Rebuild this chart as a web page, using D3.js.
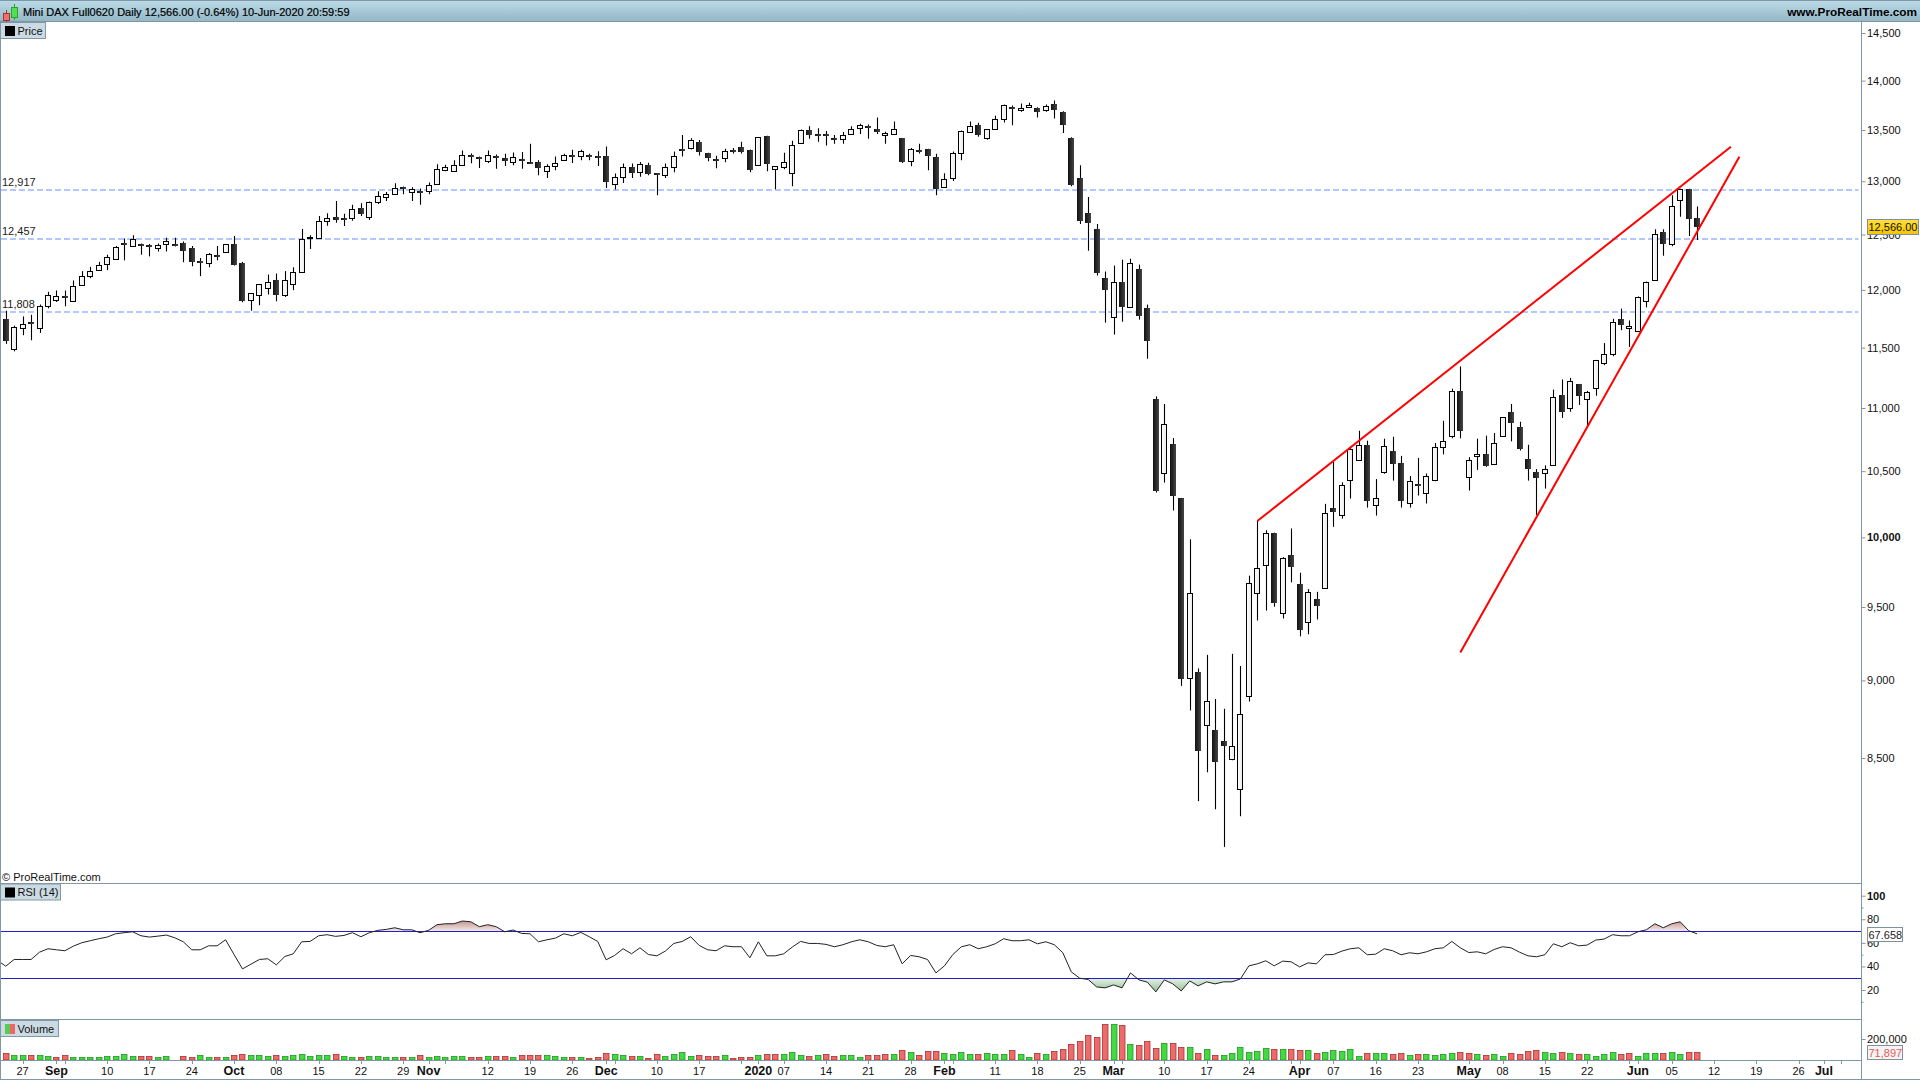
<!DOCTYPE html>
<html>
<head>
<meta charset="utf-8">
<script src="https://cdn.jsdelivr.net/npm/d3@7"></script>
<style>
  body { margin: 0; background: #fff; }
  text { font-family: "Liberation Sans", Arial, sans-serif; }
</style>
</head>
<body>
<div id="chart"></div>
<script>
const opens = [
  11745,11489,11668,11720,11668,11859,11912,11947,11900,12045,
  12122,12178,12229,12276,12421,12398,12413,12401,12380,12410,
  12410,12421,12374,12258,12241,12312,12339,12410,12244,11909,
  11956,12018,12090,11953,12054,12158,12466,12469,12622,12659,
  12650,12656,12743,12665,12805,12852,12883,12949,12901,12911,
  12911,12975,13109,13099,13160,13250,13237,13199,13243,13227,
  13189,13218,13189,13189,13103,13151,13208,13256,13247,13256,
  13247,13247,12975,13045,13141,13090,13160,13077,13064,13141,
  13314,13320,13381,13275,13218,13224,13307,13333,13298,13160,
  13442,13122,13141,13080,13371,13496,13461,13461,13419,13410,
  13458,13515,13544,13506,13448,13458,13419,13199,13307,13314,
  13237,12946,13035,13275,13477,13554,13419,13506,13611,13730,
  13698,13733,13717,13704,13765,13679,13419,13029,12696,12547,
  12107,11762,12074,11847,12187,11844,11075,10482,10714,10295,
  9018,9053,8709,8680,8609,8492,8309,8895,9598,9798,
  10035,9457,9871,9664,9395,9557,9633,10220,10164,10429,
  10585,10706,10240,10490,10659,10564,10255,10402,10331,10429,
  10688,10775,11142,10452,10616,10632,10553,10775,10966,10849,
  10593,10497,10482,10545,11108,10997,11197,11075,11164,11372,
  11447,11747,11669,11643,11902,12091,12519,12412,12824,12929,
  12653
];
const highs = [
  11817,11688,11768,11782,11871,11983,11995,11995,12084,12167,
  12205,12250,12315,12395,12463,12494,12418,12413,12418,12469,
  12469,12436,12395,12285,12330,12395,12410,12485,12250,11971,
  12051,12137,12146,12167,12202,12550,12494,12671,12696,12811,
  12693,12777,12790,12808,12905,12898,12981,12949,12943,12930,
  12987,13163,13160,13202,13298,13269,13240,13298,13259,13266,
  13279,13282,13365,13202,13163,13240,13266,13304,13304,13266,
  13291,13336,13074,13170,13170,13186,13179,13080,13170,13288,
  13451,13419,13400,13275,13247,13314,13323,13384,13307,13429,
  13442,13147,13275,13394,13506,13538,13518,13490,13451,13480,
  13538,13563,13554,13624,13483,13586,13419,13323,13365,13314,
  13266,13077,13288,13496,13586,13573,13506,13643,13755,13746,
  13765,13775,13727,13755,13797,13688,13429,13154,12850,12596,
  12164,12217,12270,12279,12226,11871,11095,11033,10759,10295,
  9986,9080,9171,8878,8814,9178,9096,9722,10121,10053,
  10035,9855,10066,9743,9626,9607,10250,10574,10414,10693,
  10817,10738,10439,10754,10770,10619,10462,10603,10482,10720,
  10897,11158,11342,10609,10754,10778,10799,10926,11033,10889,
  10706,10516,10545,11150,11234,11247,11197,11139,11397,11539,
  11747,11836,11733,11942,12074,12548,12548,12866,12929,12929,
  12761
];
const lows = [
  11532,11469,11606,11563,11626,11838,11894,11856,11900,12045,
  12104,12178,12176,12276,12264,12398,12315,12300,12344,12344,
  12389,12247,12211,12122,12202,12264,12330,12217,11891,11817,
  11865,11959,11900,11938,11998,12152,12368,12466,12581,12609,
  12578,12628,12671,12634,12783,12811,12870,12877,12811,12777,
  12877,12975,13096,13090,13147,13173,13128,13176,13119,13147,
  13154,13119,13170,13058,13032,13106,13195,13176,13202,13202,
  13147,12936,12920,12984,13032,13042,13058,12867,13032,13087,
  13240,13307,13250,13192,13125,13183,13269,13269,13087,13160,
  13096,12923,13115,12952,13371,13413,13384,13346,13365,13365,
  13458,13461,13413,13461,13365,13458,13176,13144,13269,13106,
  12867,12946,13003,13202,13477,13432,13403,13506,13576,13547,
  13682,13723,13624,13682,13614,13470,12952,12596,12350,12128,
  11714,11611,11722,11847,11740,11406,10336,10412,10200,8964,
  8803,8234,8411,8185,7961,8486,8143,8861,9406,9475,
  9502,9420,9674,9297,9311,9413,9633,10078,10139,10290,
  10585,10222,10162,10480,10427,10222,10222,10313,10253,10422,
  10630,10757,10757,10351,10510,10534,10553,10775,10733,10661,
  10427,10167,10366,10545,10920,10970,11025,10852,11100,11353,
  11428,11649,11506,11643,11847,12091,12306,12391,12665,12485,
  12450
];
const closes = [
  11554,11674,11700,11700,11856,11953,11944,11938,12033,12122,
  12167,12220,12291,12383,12413,12457,12407,12395,12407,12436,
  12398,12353,12247,12250,12321,12300,12410,12226,11906,11971,
  12051,12069,11953,12090,12158,12457,12476,12628,12650,12634,
  12637,12740,12690,12799,12864,12880,12936,12926,12926,12901,
  12965,13122,13141,13157,13253,13243,13215,13253,13237,13195,
  13237,13199,13183,13128,13147,13176,13253,13234,13291,13247,
  13224,12994,13042,13138,13083,13170,13067,13070,13138,13243,
  13301,13400,13282,13224,13205,13295,13282,13282,13106,13429,
  13166,13147,13189,13352,13496,13455,13455,13445,13407,13448,
  13506,13554,13522,13483,13467,13506,13186,13314,13291,13243,
  12923,13026,13275,13486,13544,13455,13506,13611,13746,13714,
  13723,13755,13685,13743,13704,13551,12968,12628,12609,12149,
  11998,12071,11847,12241,11768,11554,10351,10870,10306,9009,
  9598,8541,8863,8478,8573,8575,8780,9669,9776,10035,
  9531,9848,9781,9338,9605,9510,10179,10192,10391,10675,
  10704,10268,10293,10696,10558,10275,10422,10389,10460,10688,
  10735,11142,10812,10585,10632,10542,10720,10926,10876,10669,
  10519,10450,10513,11089,10966,11222,11094,11133,11397,11447,
  11721,11692,11687,11936,12074,12500,12409,12767,12929,12640,
  12566
];

// first value belongs to the bar just left of the visible window
const rsiValues = [
  45.3,40.2,45.9,45.9,45.9,52.1,55.0,54.1,53.3,57.2,
  60.1,61.8,63.5,64.9,67.7,68.6,69.4,66.0,64.9,65.7,
  66.6,64.3,60.9,54.1,54.1,57.5,57.5,62.6,50.1,37.9,
  41.9,45.9,46.5,41.3,48.4,50.7,60.9,61.2,66.0,66.9,
  65.5,66.3,68.6,65.2,68.6,70.6,71.4,72.8,71.1,71.1,
  68.6,70.6,75.4,76.2,76.2,78.5,77.9,73.7,75.4,73.7,
  69.4,70.9,68.0,67.7,60.9,62.6,64.0,67.7,66.0,68.9,
  65.2,61.2,45.6,49.3,55.0,50.7,55.8,
  50.1,49.0,53.0,59.5,61.2,65.2,57.8,54.1,53.3,57.5,
  56.7,56.7,47.3,60.9,49.0,49.0,50.7,56.4,61.2,59.5,
  59.5,58.7,56.7,58.4,60.9,62.6,60.9,57.8,56.7,58.4,
  42.2,49.3,48.2,45.9,34.5,40.5,50.1,56.7,58.4,55.0,
  56.7,59.2,63.5,61.8,61.8,62.6,59.2,60.9,58.4,51.6,
  35.4,30.0,28.9,22.6,21.8,24.3,21.8,34.5,28.6,26.6,
  18.4,28.6,25.2,19.2,27.7,23.5,26.9,25.2,26.9,26.9,
  29.4,40.5,42.2,44.8,40.5,44.5,43.9,39.6,43.0,42.2,
  49.9,50.1,53.0,55.0,55.8,49.9,50.4,55.0,53.3,49.9,
  51.6,50.7,52.4,55.0,55.8,61.2,55.8,51.8,52.4,50.7,
  54.4,56.7,55.8,52.1,49.0,48.2,49.9,59.2,56.7,60.1,
  57.5,58.1,62.3,63.2,66.9,66.0,66.0,69.4,71.1,76.2,
  72.8,76.2,77.9,70.3,67.658
];

const volumes = [
  67000,48000,48000,48000,48000,38000,29000,48000,29000,29000,
  29000,29000,38000,38000,57000,38000,38000,38000,29000,38000,
  0,38000,29000,48000,29000,29000,29000,48000,57000,48000,
  48000,38000,48000,38000,48000,57000,38000,48000,48000,57000,
  38000,29000,29000,38000,38000,29000,29000,29000,29000,48000,
  29000,38000,29000,38000,38000,29000,29000,38000,38000,38000,
  29000,48000,48000,48000,48000,38000,29000,29000,29000,19000,
  29000,67000,57000,48000,38000,38000,19000,57000,38000,57000,
  76000,38000,48000,38000,38000,48000,19000,29000,29000,48000,
  57000,57000,57000,76000,48000,38000,48000,57000,38000,48000,
  48000,29000,48000,48000,57000,57000,95000,76000,48000,86000,
  86000,67000,57000,76000,57000,57000,67000,57000,57000,95000,
  57000,29000,67000,57000,86000,105000,152000,181000,238000,219000,
  343000,343000,333000,152000,143000,181000,114000,162000,162000,124000,
  124000,67000,105000,48000,48000,67000,124000,76000,86000,114000,
  105000,105000,105000,95000,95000,67000,76000,95000,86000,105000,
  38000,67000,67000,67000,57000,67000,48000,57000,57000,48000,
  57000,67000,76000,67000,57000,48000,57000,38000,67000,57000,
  86000,95000,76000,67000,76000,67000,57000,57000,38000,57000,
  76000,57000,67000,38000,67000,67000,67000,76000,57000,76000,
  71897
];
const volumeRed = [
  0,3,6,7,16,17,21,22,25,27,28,32,39,42,47,49,55,56,58,59,61,62,63,67,69,70,71,74,
  76,77,82,83,84,86,87,88,90,91,95,97,98,102,103,104,106,108,109,110,115,119,122,124,125,
  126,127,128,129,130,132,134,135,136,138,139,141,143,150,152,153,155,161,164,165,167,172,
  173,175,178,179,180,181,184,186,191,192,196,199,200
];

const priceTicks = [14500,14000,13500,13000,12500,12000,11500,11000,10500,10000,9500,9000,8500];
const levels = [12917, 12457, 11808];
// wedge: [bar, price] at both ends
const wedgeUpper = [[148, 10121], [204, 13335]];
const wedgeLower = [[172, 9187], [205, 13237]];

const rsiTicks = [100, 80, 60, 40, 20];
const rsiMinor = [90, 50, 10];
const rsiBands = [70, 30];

// bar position, label, major (bold)
const timeLabels = [
  [2,"27",0],[6,"Sep",1],[12,"10",0],[17,"17",0],[22,"24",0],[27,"Oct",1],[32,"08",0],[37,"15",0],
  [42,"22",0],[47,"29",0],[50,"Nov",1],[57,"12",0],[62,"19",0],[67,"26",0],[71,"Dec",1],[77,"10",0],
  [82,"17",0],[89,"2020",1],[92,"07",0],[97,"14",0],[102,"21",0],[107,"28",0],[111,"Feb",1],[117,"11",0],
  [122,"18",0],[127,"25",0],[131,"Mar",1],[137,"10",0],[142,"17",0],[147,"24",0],[153,"Apr",1],[157,"07",0],
  [162,"16",0],[167,"23",0],[173,"May",1],[177,"08",0],[182,"15",0],[187,"22",0],[193,"Jun",1],[197,"05",0],
  [202,"12",0],[207,"19",0],[212,"26",0],[215,"Jul",1]
];
const extraTimeTicks = [7, 52, 72, 87, 112, 132, 152, 192, 217];

const width = 1920;
const height = 1080;
const axisX = 1861.5;
const borderColor = "#8098a3";
const font = 11;

const svg = d3.select("#chart").append("svg")
  .attr("width", width).attr("height", height)
  .style("display", "block");

const defs = svg.append("defs");
function gradient(id, stops, x2, y2) {
  const g = defs.append("linearGradient").attr("id", id)
    .attr("x1", 0).attr("y1", 0).attr("x2", x2).attr("y2", y2);
  stops.forEach((s, i) => g.append("stop").attr("offset", i / (stops.length - 1)).attr("stop-color", s));
  return g;
}
gradient("header", ["#bcdbe8", "#93b6c5"], 0, 1);
gradient("black", ["#111111", "#454545"], 1, 0);
gradient("white", ["#ffffff", "#eaeaea"], 1, 0);
gradient("current", ["#ffe040", "#f5c400"], 0, 1);

const x = d3.scaleLinear().domain([0, 200]).range([5.7, 1697.1]);
const y = d3.scaleLog().domain([14500, 8500]).range([33, 758]);
const yRsi = d3.scaleLinear().domain([100, 20]).range([895.7, 990]);
const yVol = d3.scaleLinear().domain([0, 200000]).range([1060, 1039]);

// panels
defs.append("clipPath").attr("id", "plot").append("rect")
  .attr("x", 1).attr("y", 22).attr("width", axisX - 1).attr("height", 1038);

// dashed levels
const levelG = svg.append("g");
levelG.selectAll("line").data(levels).join("line")
  .attr("x1", 1).attr("x2", axisX - 3)
  .attr("y1", (d) => Math.round(y(d))).attr("y2", (d) => Math.round(y(d)))
  .attr("stroke", "#b4c8ff").attr("stroke-width", 2).attr("stroke-dasharray", "6,3");
levelG.selectAll("text").data(levels).join("text")
  .attr("x", 2).attr("y", (d) => y(d) - 4)
  .attr("font-size", font).attr("fill", "#222")
  .text(d3.format(","));

// candles
const isUp = (i) => closes[i] >= opens[i];
const bodyTop = (i) => Math.round(y(Math.max(opens[i], closes[i])));
const bodyBottom = (i) => Math.round(y(Math.min(opens[i], closes[i])));
const bars = svg.append("g").attr("clip-path", "url(#plot)")
  .selectAll("g").data(d3.range(opens.length)).join("g");
bars.append("line")
  .attr("x1", (i) => Math.round(x(i)) + 0.5).attr("x2", (i) => Math.round(x(i)) + 0.5)
  .attr("y1", (i) => y(highs[i])).attr("y2", (i) => y(lows[i]))
  .attr("stroke", "#000").attr("stroke-width", 1.1);
bars.append("rect")
  .attr("x", (i) => Math.round(x(i)) - (isUp(i) ? 2.5 : 3))
  .attr("width", (i) => (isUp(i) ? 5 : 6))
  .attr("y", (i) => bodyTop(i) + (isUp(i) ? 0.5 : 0))
  .attr("height", (i) => Math.max(isUp(i) ? 1 : 2, bodyBottom(i) - bodyTop(i)))
  .attr("fill", (i) => (isUp(i) ? "url(#white)" : "url(#black)"))
  .attr("stroke", (i) => (isUp(i) ? "#000" : "none"))
  .attr("stroke-width", 1);

// wedge lines
const priceLine = d3.line().x((d) => x(d[0])).y((d) => y(d[1]));
svg.append("g").selectAll("path").data([wedgeUpper, wedgeLower]).join("path")
  .attr("d", priceLine)
  .attr("fill", "none").attr("stroke", "#ff0000").attr("stroke-width", 2);

// rsi
const rsiData = rsiValues.map((v, i) => [i - 1, v]);
const rsiLine = d3.line().x((d) => x(d[0])).y((d) => yRsi(d[1]));
gradient("over", ["#c49090", "#f5e8e8"], 0, 1)
  .attr("gradientUnits", "userSpaceOnUse")
  .attr("x1", 0).attr("x2", 0).attr("y1", yRsi(79)).attr("y2", yRsi(70));
gradient("under", ["#e8f2e8", "#8fbc8f"], 0, 1)
  .attr("gradientUnits", "userSpaceOnUse")
  .attr("x1", 0).attr("x2", 0).attr("y1", yRsi(30)).attr("y2", yRsi(18));
defs.append("clipPath").attr("id", "above").append("rect")
  .attr("x", 1).attr("width", axisX - 1).attr("y", yRsi(100)).attr("height", yRsi(70) - yRsi(100));
defs.append("clipPath").attr("id", "below").append("rect")
  .attr("x", 1).attr("width", axisX - 1).attr("y", yRsi(30)).attr("height", yRsi(0) - yRsi(30));
const rsiG = svg.append("g");
[[70, "over", "above"], [30, "under", "below"]].forEach(([level, fill, clip]) => {
  rsiG.append("path")
    .attr("d", d3.area().x((d) => x(d[0])).y0(yRsi(level)).y1((d) => yRsi(d[1]))(rsiData))
    .attr("fill", `url(#${fill})`).attr("clip-path", `url(#${clip})`);
});
rsiG.selectAll("line").data(rsiBands).join("line")
  .attr("x1", 1).attr("x2", axisX)
  .attr("y1", (d) => Math.round(yRsi(d)) + 0.5).attr("y2", (d) => Math.round(yRsi(d)) + 0.5)
  .attr("stroke", "#2020c8").attr("stroke-width", 1.2);
rsiG.append("path")
  .attr("d", rsiLine(rsiData))
  .attr("clip-path", "url(#plot)")
  .attr("fill", "none").attr("stroke", "#222").attr("stroke-width", 1);

// volume
svg.append("g").selectAll("rect").data(d3.range(volumes.length).filter((i) => volumes[i] > 0)).join("rect")
  .attr("x", (i) => Math.round(x(i)) - 2.5)
  .attr("width", 5.5)
  .attr("y", (i) => Math.round(yVol(volumes[i])) + 0.5)
  .attr("height", (i) => yVol(0) - Math.round(yVol(volumes[i])) - 0.5)
  .attr("fill", (i) => (volumeRed.includes(i) ? "#ee6b6b" : "#44d944"))
  .attr("stroke", (i) => (volumeRed.includes(i) ? "#a83232" : "#1f9a1f"))
  .attr("stroke-width", 0.8);

// panel frame
const frame = svg.append("g").attr("stroke", borderColor).attr("stroke-width", 1);
[[0.5, 22, 0.5, 1080], [axisX, 22, axisX, 1079], [0, 883.5, axisX, 883.5], [0, 1019.5, axisX, 1019.5],
 [0, 1060.5, axisX, 1060.5], [0, 1079.5, width, 1079.5]].forEach((l) => {
  frame.append("line").attr("x1", l[0]).attr("y1", l[1]).attr("x2", l[2]).attr("y2", l[3]);
});

// right axes
function styleAxis(g) {
  g.select(".domain").remove();
  g.selectAll(".tick line").attr("stroke", borderColor);
  g.selectAll(".tick text").attr("x", 5.5).attr("font-size", font).attr("font-family", '"Liberation Sans"').attr("fill", "#111");
}
svg.append("g").attr("transform", `translate(${axisX},0)`)
  .call(d3.axisRight(y).tickValues(priceTicks).tickSize(4).tickFormat(d3.format(",")))
  .call(styleAxis)
  .call((g) => g.selectAll(".tick text").attr("font-weight", (d) => (d === 10000 ? "bold" : null)));
svg.append("g").attr("transform", `translate(${axisX},0)`)
  .call(d3.axisRight(yRsi).tickValues(rsiTicks).tickSize(4))
  .call(styleAxis)
  .call((g) => g.selectAll(".tick text").attr("font-weight", (d) => (d === 100 ? "bold" : null)));
svg.append("g").attr("transform", `translate(${axisX},0)`)
  .call(d3.axisRight(yRsi).tickValues(rsiMinor).tickSize(2).tickFormat(""))
  .call(styleAxis);
svg.append("g").attr("transform", `translate(${axisX},0)`)
  .call(d3.axisRight(yVol).tickValues([200000]).tickSize(4).tickFormat(d3.format(",")))
  .call(styleAxis);

// time axis
const timeG = svg.append("g");
timeG.selectAll("line").data(timeLabels.map((d) => d[0]).concat(extraTimeTicks)).join("line")
  .attr("x1", (d) => Math.round(x(d)) + 0.5).attr("x2", (d) => Math.round(x(d)) + 0.5)
  .attr("y1", 1060).attr("y2", 1064)
  .attr("stroke", borderColor);
timeG.selectAll("text").data(timeLabels).join("text")
  .attr("x", (d) => x(d[0])).attr("y", 1075)
  .attr("text-anchor", "middle")
  .attr("font-size", (d) => (d[2] ? 12.5 : font))
  .attr("font-weight", (d) => (d[2] ? "bold" : null))
  .attr("fill", "#111")
  .text((d) => d[1]);

// value boxes on the scales
function valueBox(bx, by, w, h, fill, label, color, size) {
  svg.append("rect").attr("x", bx + 0.5).attr("y", by + 0.5).attr("width", w).attr("height", h)
    .attr("fill", fill).attr("stroke", "#7d929c");
  svg.append("text").attr("x", bx + 1.5).attr("y", by + h / 2 + 4.5)
    .attr("font-size", size).attr("fill", color).text(label);
}
valueBox(1867, 219, 51, 15, "url(#current)", d3.format(",.2f")(closes[closes.length - 1]), "#111", 11);
valueBox(1867, 927, 35, 14, "#ffffff", "67.658", "#222", font);
valueBox(1867, 1045, 35, 14, "#f4f4f4", d3.format(",")(volumes[volumes.length - 1]), "#e85a5a", font);

// header
svg.append("rect").attr("x", 0).attr("y", 0).attr("width", width).attr("height", 22)
  .attr("fill", "url(#header)");
svg.append("line").attr("x1", 0).attr("x2", width).attr("y1", 21.5).attr("y2", 21.5).attr("stroke", "#7c97a3");
svg.append("line").attr("x1", 0).attr("x2", width).attr("y1", 0.5).attr("y2", 0.5).attr("stroke", "#7c97a3");
// small candle icon
svg.append("line").attr("x1", 6.5).attr("x2", 6.5).attr("y1", 10).attr("y2", 22).attr("stroke", "#a33");
svg.append("rect").attr("x", 3.5).attr("y", 13.5).attr("width", 6).attr("height", 7).attr("fill", "#f07070").attr("stroke", "#a33");
svg.append("line").attr("x1", 14.5).attr("x2", 14.5).attr("y1", 4).attr("y2", 20).attr("stroke", "#2a2");
svg.append("rect").attr("x", 11.5).attr("y", 7.5).attr("width", 6).attr("height", 10).attr("fill", "#55dd55").attr("stroke", "#2a2");
svg.append("text").attr("x", 23).attr("y", 16).attr("font-size", 11).attr("fill", "#000")
  .attr("stroke", "#000").attr("stroke-width", 0.2)
  .text("Mini DAX Full0620 Daily 12,566.00 (-0.64%) 10-Jun-2020 20:59:59");
svg.append("text").attr("x", 1917).attr("y", 16).attr("text-anchor", "end").attr("font-size", 11.8)
  .attr("font-weight", "bold").attr("fill", "#000").text("www.ProRealTime.com");

// panel tags
function tag(by, w, label, colors) {
  svg.append("rect").attr("x", 0.5).attr("y", by + 0.5).attr("width", w).attr("height", 16)
    .attr("fill", "#ccdbe3").attr("stroke", "#7f9aa6");
  colors.forEach((c, i) => {
    svg.append("rect").attr("x", 5 + i * 10 / colors.length).attr("y", by + 4)
      .attr("width", 10 / colors.length).attr("height", 10).attr("fill", c);
  });
  svg.append("text").attr("x", 17.5).attr("y", by + 12.5).attr("font-size", font).attr("fill", "#111").text(label);
}
tag(22, 45, "Price", ["#000"]);
tag(883.5, 60, "RSI (14)", ["#000"]);
tag(1020, 58, "Volume", ["#55cc55", "#ee6666"]);

svg.append("text").attr("x", 2).attr("y", 881).attr("font-size", font).attr("fill", "#111")
  .text("\u00a9 ProRealTime.com");
</script>
</body>
</html>
